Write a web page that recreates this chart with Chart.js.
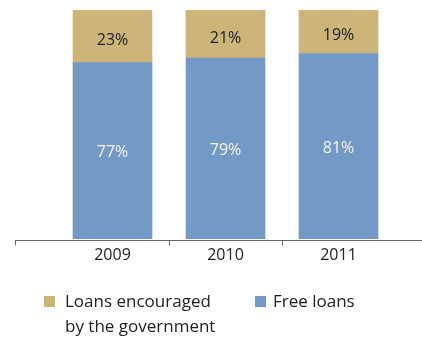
<!DOCTYPE html>
<html lang="en">
<head>
    <meta charset="UTF-8">
    <title>Loans</title>
    <script src="https://cdn.jsdelivr.net/npm/chart.js"></script>
    <style>
        body {
            margin: 0;
            background-color: white;
            font-family: "Open Sans", sans-serif;
        }
        .wrap {
            position: relative;
            width: 422px;
            height: 338px;
        }
        .legend-item {
            position: absolute;
            font-size: 17px;
            line-height: 25px;
            color: #222;
        }
        .legend-box {
            position: absolute;
            width: 11px;
            height: 11px;
        }
    </style>
</head>
<body>
    <div class="wrap" id="wrap">
        <canvas id="loanChart" width="422" height="338"></canvas>
    </div>

    <script>
        // data
        const years = ['2009', '2010', '2011'];
        const govLoans = [23, 21, 19];
        const freeLoans = [77, 79, 81];
        const legendNames = ['Loans encouraged\nby the government', 'Free loans'];
        const colors = ['#CDB479', '#7399C6'];

        // axis line + separators, drawn wider than the chart area like the original
        const axisPlugin = {
            id: 'axisLine',
            afterDatasetsDraw(chart) {
                const ctx = chart.ctx;
                const x = chart.scales.x;
                const y = chart.chartArea.bottom + 1.5;
                ctx.save();
                ctx.strokeStyle = '#666';
                ctx.lineWidth = 1;
                ctx.beginPath();
                ctx.moveTo(15, y);
                ctx.lineTo(422, y);
                const marks = [15.5];
                for (let i = 0; i < years.length - 1; i++) {
                    marks.push(Math.floor((x.getPixelForValue(i) + x.getPixelForValue(i + 1)) / 2) + 0.5);
                }
                marks.forEach(m => {
                    ctx.moveTo(m, y);
                    ctx.lineTo(m, y + 5);
                });
                ctx.stroke();
                ctx.restore();
            }
        };

        // percentage labels inside each segment
        const labelPlugin = {
            id: 'segLabels',
            afterDatasetsDraw(chart) {
                const ctx = chart.ctx;
                ctx.save();
                ctx.font = '16px "Open Sans"';
                ctx.textAlign = 'center';
                ctx.textBaseline = 'middle';
                chart.data.datasets.forEach((ds, di) => {
                    const gov = ds.label === legendNames[0];
                    chart.getDatasetMeta(di).data.forEach((bar, i) => {
                        const c = bar.getCenterPoint();
                        ctx.fillStyle = gov ? '#222' : '#f4f4f4';
                        ctx.fillText(ds.data[i] + '%', c.x, c.y + (gov ? 4 : 2));
                    });
                });
                ctx.restore();
            }
        };

        new Chart(document.getElementById('loanChart'), {
            type: 'bar',
            data: {
                labels: years,
                datasets: [
                    // free loans sit at the bottom of each stack
                    { label: legendNames[1], data: freeLoans, backgroundColor: colors[1], barThickness: 79 },
                    { label: legendNames[0], data: govLoans, backgroundColor: colors[0], barThickness: 79 }
                ]
            },
            options: {
                responsive: false,
                animation: false,
                layout: {
                    padding: { left: 56, right: 27, top: 10, bottom: 59 }
                },
                scales: {
                    x: {
                        stacked: true,
                        grid: { display: false, drawTicks: false },
                        border: { display: false },
                        ticks: {
                            color: '#222',
                            padding: 7,
                            font: { family: 'Open Sans', size: 16 }
                        },
                        afterFit(scale) { scale.height = 40; }
                    },
                    y: {
                        stacked: true,
                        display: false,
                        min: 0,
                        max: 100
                    }
                },
                plugins: {
                    legend: { display: false },
                    tooltip: { enabled: false }
                }
            },
            plugins: [axisPlugin, labelPlugin]
        });

        // legend below the chart (html, since the first label wraps onto two lines)
        const legendSpots = [{ box: 44, text: 65 }, { box: 255, text: 273 }];
        const wrap = document.getElementById('wrap');
        legendNames.forEach((name, i) => {
            const box = document.createElement('div');
            box.className = 'legend-box';
            box.style.left = legendSpots[i].box + 'px';
            box.style.top = '296px';
            box.style.background = colors[i];
            wrap.appendChild(box);
            const txt = document.createElement('div');
            txt.className = 'legend-item';
            txt.style.left = legendSpots[i].text + 'px';
            txt.style.top = '288px';
            txt.innerHTML = name.replace('\n', '<br>');
            wrap.appendChild(txt);
        });
    </script>
</body>
</html>
